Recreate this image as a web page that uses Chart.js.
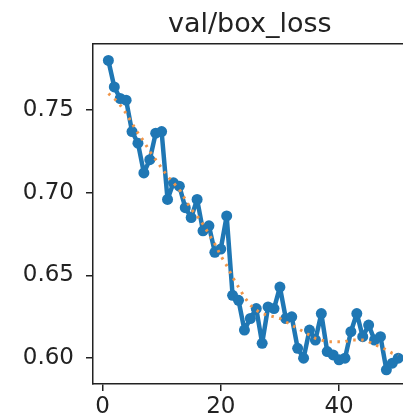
<!DOCTYPE html>
<html>
<head>
<meta charset="utf-8">
<script src="https://cdn.jsdelivr.net/npm/chart.js@4.4.1/dist/chart.umd.min.js"></script>
<style>
  html, body { margin: 0; padding: 0; background: #fff; overflow: hidden; }
  #wrap { width: 403px; height: 416px; overflow: hidden; }
</style>
</head>
<body>
<div id="wrap"><canvas id="myChart" width="412" height="416"></canvas></div>
<script>
const epochs = [1, 2, 3, 4, 5, 6, 7, 8, 9, 10, 11, 12, 13, 14, 15, 16, 17, 18, 19, 20,
  21, 22, 23, 24, 25, 26, 27, 28, 29, 30, 31, 32, 33, 34, 35, 36, 37, 38, 39, 40,
  41, 42, 43, 44, 45, 46, 47, 48, 49, 50];

const boxLoss = [0.780, 0.764, 0.757, 0.756, 0.737, 0.730, 0.712, 0.720, 0.736, 0.737,
  0.696, 0.706, 0.704, 0.691, 0.685, 0.696, 0.677, 0.680, 0.664, 0.666,
  0.686, 0.638, 0.635, 0.617, 0.624, 0.630, 0.609, 0.631, 0.630, 0.643,
  0.624, 0.625, 0.606, 0.600, 0.617, 0.611, 0.627, 0.604, 0.602, 0.599,
  0.600, 0.616, 0.627, 0.613, 0.620, 0.611, 0.613, 0.593, 0.597, 0.600];

const smoothLoss = [0.760, 0.757, 0.753, 0.748, 0.742, 0.736, 0.731, 0.725, 0.720, 0.715,
  0.710, 0.706, 0.702, 0.696, 0.690, 0.686, 0.681, 0.675, 0.669, 0.662,
  0.656, 0.649, 0.643, 0.637, 0.632, 0.629, 0.627, 0.626, 0.625, 0.624,
  0.622, 0.620, 0.618, 0.616, 0.614, 0.612, 0.611, 0.610, 0.610, 0.610,
  0.610, 0.611, 0.611, 0.611, 0.610, 0.608, 0.607, 0.605, 0.603, 0.602];

const xTicks = [0, 20, 40];
const yTicks = [0.60, 0.65, 0.70, 0.75];
const chartTitle = 'val/box_loss';

const font = 'DejaVu Sans';

// canvas is a bit wider than the window: the reference is cropped at the right spine
const ctx = document.getElementById('myChart');

new Chart(ctx, {
  type: 'line',
  data: {
    datasets: [
      {
        label: 'results',
        data: epochs.map((e, i) => ({ x: e, y: boxLoss[i] })),
        borderColor: '#1f77b4',
        backgroundColor: '#1f77b4',
        borderWidth: 4.5,
        borderJoinStyle: 'round',
        borderCapStyle: 'round',
        pointRadius: 5.5,
        pointBorderWidth: 0,
        pointBackgroundColor: '#1f77b4',
        tension: 0,
        order: 1
      },
      {
        label: 'smooth',
        data: epochs.map((e, i) => ({ x: e, y: smoothLoss[i] })),
        borderColor: '#f0964a',
        borderWidth: 3,
        borderDash: [2.5, 5.5],
        pointRadius: 0,
        tension: 0,
        order: 0
      }
    ]
  },
  options: {
    responsive: false,
    animation: false,
    events: [],
    layout: { padding: 0 },
    plugins: {
      legend: { display: false },
      tooltip: { enabled: false }
    },
    scales: {
      x: {
        type: 'linear',
        position: 'bottom',
        min: -1.6,
        max: 51.4,
        afterBuildTicks: s => { s.ticks = xTicks.map(v => ({ value: v })); },
        afterFit: s => { s.height = 32; },
        grid: { drawOnChartArea: false, drawTicks: true, tickLength: 7, color: '#222', lineWidth: 1.5 },
        border: { display: true, color: '#222', width: 1.5 },
        ticks: { color: '#222', padding: 2, font: { family: font, size: 23 }, maxRotation: 0 }
      },
      xTop: {
        type: 'linear',
        position: 'top',
        min: -1.6,
        max: 51.4,
        grid: { display: false, drawTicks: false },
        border: { display: true, color: '#222', width: 1.5 },
        ticks: { display: false },
        title: {
          display: true,
          text: chartTitle,
          color: '#222',
          font: { family: font, size: 27 },
          padding: { top: 8.5, bottom: 3 }
        }
      },
      y: {
        type: 'linear',
        min: 0.5844,
        max: 0.790,
        afterBuildTicks: s => { s.ticks = yTicks.map(v => ({ value: v })); },
        afterFit: s => { s.width = 93; },
        grid: { drawOnChartArea: false, drawTicks: true, tickLength: 7, color: '#222', lineWidth: 1.5 },
        border: { display: true, color: '#222', width: 1.5 },
        ticks: {
          color: '#222',
          padding: 12,
          font: { family: font, size: 23 },
          callback: v => v.toFixed(2)
        }
      }
    }
  }
});
</script>
</body>
</html>
